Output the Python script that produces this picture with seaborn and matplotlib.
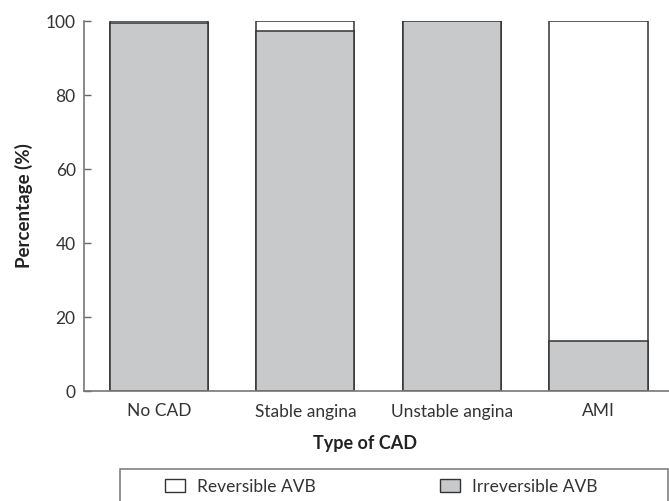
import matplotlib
matplotlib.use("Agg")
import matplotlib.pyplot as plt
from matplotlib.patches import Patch, Rectangle
import seaborn as sns
import pandas as pd

categories = ["No CAD", "Stable angina", "Unstable angina", "AMI"]
reversible = [0.6, 2.6, 0.0, 86.5]
irreversible = [99.4, 97.4, 100.0, 13.5]
y_ticks = [0, 20, 40, 60, 80, 100]
legend_labels = ["Reversible AVB", "Irreversible AVB"]

sns.set_theme(style="white")
plt.rcParams["font.family"] = ["Lato", "DejaVu Sans"]

df = pd.DataFrame({
    "cat": categories,
    "total": [r + i for r, i in zip(reversible, irreversible)],
    "irr": irreversible,
})

W, H = 669, 501
fig = plt.figure(figsize=(W / 100, H / 100), dpi=100)
left, right, top, bottom = 84, 671.75, 21, 391
ax = fig.add_axes([left / W, 1 - bottom / H, (right - left) / W, (bottom - top) / H])

edge = "#333333"
gray = "#c8c9cb"
sns.barplot(data=df, x="cat", y="total", color="white", width=0.67,
            edgecolor=edge, linewidth=1.1, ax=ax, saturation=1)
sns.barplot(data=df, x="cat", y="irr", color=gray, width=0.67,
            edgecolor=edge, linewidth=1.1, ax=ax, saturation=1)

ax.set_xlim(-0.51, 3.5)
ax.set_ylim(0, 100)
ax.set_yticks(y_ticks)
ax.tick_params(axis="y", direction="in", length=5, width=1, color="#666666",
               labelsize=12.5, labelcolor="#333333", pad=6, left=True)
ax.tick_params(axis="x", length=0, labelsize=12.5, labelcolor="#333333", pad=9)
for s in ["top", "right"]:
    ax.spines[s].set_visible(False)
for s in ["left", "bottom"]:
    ax.spines[s].set_color("#777777")
    ax.spines[s].set_linewidth(1.2)

ax.set_ylabel("Percentage (%)", fontsize=13.5, fontweight="bold", color="#222222")
ax.set_xlabel("Type of CAD", fontsize=13, fontweight="bold", color="#222222")
ax.yaxis.set_label_coords(-(left - 33) / (right - left), 0.5)
ax.xaxis.set_label_coords((365 - left) / (right - left), -(435 - bottom) / (bottom - top))

# legend frame
fig.patches.append(Rectangle((120 / W, -0.05), (668 - 120) / W, 1 - 469 / H + 0.05,
                             transform=fig.transFigure, facecolor="none",
                             edgecolor="#777777", linewidth=1.1))
handles = [Patch(facecolor="white", edgecolor=edge, linewidth=1),
           Patch(facecolor=gray, edgecolor=edge, linewidth=1)]
for h, lab, x in zip(handles, legend_labels, [165, 440]):
    fig.legend(handles=[h], labels=[lab], loc="center left",
               bbox_to_anchor=(x / W, 1 - 486.5 / H), frameon=False,
               borderpad=0, borderaxespad=0, handlelength=1.15, handleheight=0.85,
               handletextpad=0.7, fontsize=12.5, labelcolor="#333333")

fig.savefig("out.png", dpi=100)
